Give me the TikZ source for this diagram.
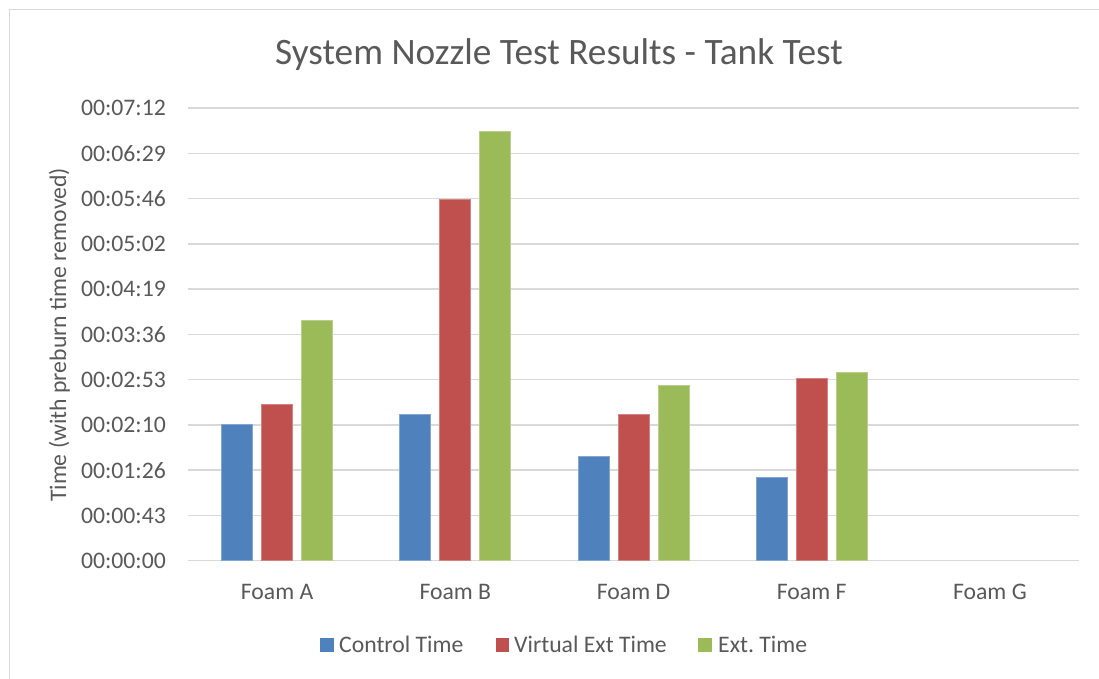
\documentclass[tikz,border=0pt]{standalone}
\usepackage{fontspec}
\setmainfont{Carlito}
\definecolor{txt}{HTML}{595959}
\definecolor{gridc}{HTML}{D9D9D9}
\definecolor{cblue}{HTML}{4F81BD}
\definecolor{cred}{HTML}{C0504D}
\definecolor{cgreen}{HTML}{9BBB59}
\tikzset{
  lbl/.style={text=txt, inner sep=0pt, font=\fontsize{23.7}{28}\selectfont},
  ttl/.style={text=txt, inner sep=0pt, font=\fontsize{37.3}{42}\selectfont},
  gridline/.style={draw=gridc, line width=1.5pt},
  barb/.style={fill=cblue, draw=cblue!70!white, line width=0.8pt},
  barr/.style={fill=cred, draw=cred!70!white, line width=0.8pt},
  barg/.style={fill=cgreen, draw=cgreen!70!white, line width=0.8pt},
}
\begin{document}
\begin{tikzpicture}[x=1pt,y=-1pt]
\useasboundingbox (0,0) rectangle (1099,679);
\fill[white] (0,0) rectangle (1099,679);
% chart frame
\draw[gridc, line width=1.5pt] (9.5,679) -- (9.5,9.5) -- (1099,9.5);
% title
\node[ttl, anchor=base] (title) at (559,65) {System Nozzle Test Results - Tank Test};
% gridlines and tick labels
\foreach \k/\t in {0/00:00:00,1/00:00:43,2/00:01:26,3/00:02:10,4/00:02:53,5/00:03:36,6/00:04:19,7/00:05:02,8/00:05:46,9/00:06:29,10/00:07:12}{
  \pgfmathsetmacro{\yy}{560.7-45.27*\k}
  \draw[gridline] (188,\yy) -- (1079,\yy);
  \node[lbl, anchor=east] (tick\k) at (166,\yy) {\t};
}
% bars
\foreach \c/\a/\b/\g in {277.1/424.7/404/320, 455.3/414/199.3/131.7, 633.5/456/414.3/385.3, 811.7/477.3/378.7/372.3}{
  \filldraw[barb] (\c-55.5,560.7) rectangle (\c-24.5,\a);
  \filldraw[barr] (\c-15.5,560.7) rectangle (\c+15.5,\b);
  \filldraw[barg] (\c+24.5,560.7) rectangle (\c+55.5,\g);
}
% category labels
\node[lbl, anchor=base] (catA) at (277.1,599) {Foam A};
\node[lbl, anchor=base] (catB) at (455.3,599) {Foam B};
\node[lbl, anchor=base] (catD) at (633.5,599) {Foam D};
\node[lbl, anchor=base] (catF) at (811.7,599) {Foam F};
\node[lbl, anchor=base] (catG) at (989.9,599) {Foam G};
% axis title
\node[lbl, anchor=base, rotate=90] (ytitle) at (66,335) {Time (with preburn time removed)};
% legend
\fill[cblue] (320,638) rectangle (333.5,651.5);
\node[lbl, anchor=base west] (legA) at (339,652.3) {Control Time};
\fill[cred] (495.5,638) rectangle (509,651.5);
\node[lbl, anchor=base west] (legB) at (514,652.3) {Virtual Ext Time};
\fill[cgreen] (698,638) rectangle (711.5,651.5);
\node[lbl, anchor=base west] (legC) at (718,652.3) {Ext.\ Time};
\end{tikzpicture}
\end{document}
